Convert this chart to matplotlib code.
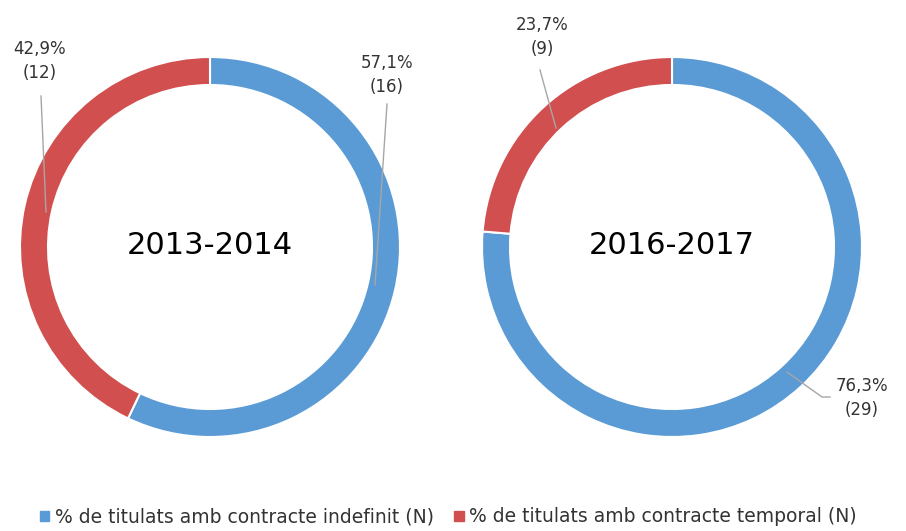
import matplotlib.pyplot as plt

# data
years = ["2013-2014", "2016-2017"]
indefinit_pct = [57.1, 76.3]
temporal_pct = [42.9, 23.7]
indefinit_n = [16, 29]
temporal_n = [12, 9]
legend_labels = ["% de titulats amb contracte indefinit (N)",
                 "% de titulats amb contracte temporal (N)"]

blue = "#5B9BD5"
red = "#D24F4F"
H = 531  # figure height in px, used to flip y for layout


def py(y):
    return H - y


fig = plt.figure(figsize=(9.06, 5.31), dpi=100)
ax = fig.add_axes([0, 0, 1, 1])

centers = [(210, py(247)), (672, py(247))]
radius = 190

for i in range(2):
    wedges, _ = ax.pie([indefinit_pct[i], temporal_pct[i]], colors=[blue, red],
                       startangle=90, counterclock=False, center=centers[i],
                       radius=radius, frame=True,
                       wedgeprops=dict(width=28, edgecolor="white", linewidth=1.5))
    ax.text(centers[i][0], centers[i][1] + 2, years[i], fontsize=22,
            ha="center", va="center", color="#000000")

ax.set_xlim(0, 906)
ax.set_ylim(0, H)
ax.set_aspect("equal")
ax.axis("off")


def fmt(p, n):
    return f"{p:.1f}%".replace(".", ",") + f"\n({n})"


lab_kw = dict(fontsize=12, ha="center", va="center", color="#333333", linespacing=1.45)
line_kw = dict(color="#A6A6A6", lw=1)

# left chart labels
ax.text(40, py(61), fmt(temporal_pct[0], temporal_n[0]), **lab_kw)
ax.plot([41, 46], [py(96), py(212)], **line_kw)
ax.text(387, py(75), fmt(indefinit_pct[0], indefinit_n[0]), **lab_kw)
ax.plot([387, 375], [py(104), py(285)], **line_kw)

# right chart labels
ax.text(542, py(37), fmt(temporal_pct[1], temporal_n[1]), **lab_kw)
ax.plot([540, 556], [py(70), py(128)], **line_kw)
ax.text(862, py(398), fmt(indefinit_pct[1], indefinit_n[1]), **lab_kw)
ax.plot([787, 822, 830], [py(372), py(397), py(397)], **line_kw)

# legend
handles = [plt.Rectangle((0, 0), 1, 1, color=blue),
           plt.Rectangle((0, 0), 1, 1, color=red)]
fig.legend(handles, legend_labels, loc="center", bbox_to_anchor=(0.495, 1 - 517 / H),
           ncol=2, frameon=False, fontsize=13.5, handlelength=0.5, handleheight=0.5,
           handletextpad=0.3, columnspacing=1.1, labelcolor="#333333")

fig.savefig("out.png", dpi=100)
